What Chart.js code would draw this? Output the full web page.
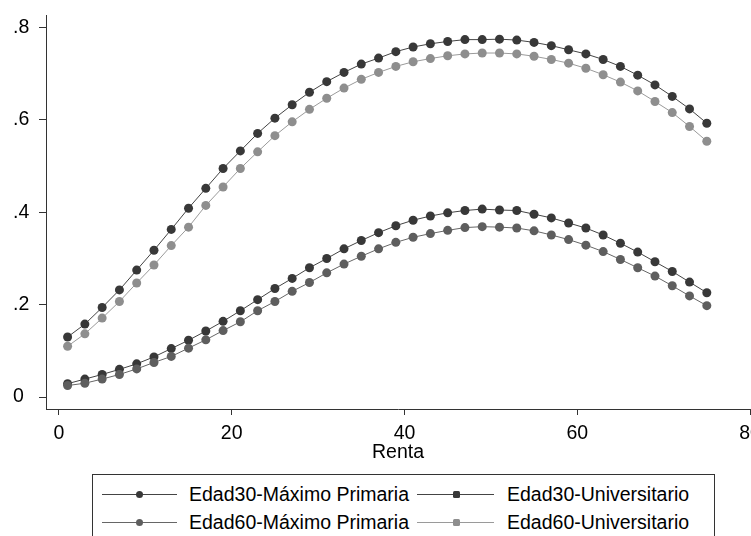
<!DOCTYPE html>
<html><head><meta charset="utf-8">
<script src="https://cdn.jsdelivr.net/npm/chart.js@4/dist/chart.umd.min.js"></script>
<style>
html,body{margin:0;padding:0;background:#fff;}
body{width:751px;height:536px;overflow:hidden;position:relative;font-family:"Liberation Sans",Arial,sans-serif;color:#000;}
#wrap{position:absolute;left:0;top:0;width:770px;height:470px;}
#legendBox{position:absolute;left:92px;top:474px;width:623px;height:80px;box-sizing:border-box;border:1px solid #333;}
.ln{position:absolute;height:1px;}
.mk{position:absolute;width:7px;height:7px;border-radius:50%;}
.sq{border-radius:1.5px;}
.tx{position:absolute;font-size:19.5px;line-height:22px;white-space:nowrap;}
</style></head><body>
<div id="wrap"><canvas id="c" width="770" height="470"></canvas></div>
<div id="legendBox"></div>
<div id="legendItems"></div>
<script>
// ---- data ----
const renta = [1,3,5,7,9,11,13,15,17,19,21,23,25,27,29,31,33,35,37,39,41,43,45,47,49,51,53,55,57,59,61,63,65,67,69,71,73,75];
const edad30Primaria = [0.029,0.039,0.049,0.060,0.072,0.087,0.105,0.123,0.143,0.164,0.187,0.211,0.235,0.257,0.280,0.300,0.321,0.339,0.356,0.371,0.383,0.392,0.399,0.404,0.407,0.405,0.404,0.396,0.388,0.377,0.366,0.351,0.333,0.314,0.293,0.272,0.249,0.226];
const edad30Universitario = [0.130,0.158,0.194,0.232,0.275,0.318,0.363,0.409,0.452,0.495,0.533,0.571,0.604,0.633,0.660,0.683,0.703,0.721,0.734,0.748,0.758,0.765,0.770,0.774,0.774,0.775,0.773,0.768,0.761,0.752,0.743,0.731,0.716,0.697,0.676,0.651,0.624,0.593];
const edad60Primaria = [0.025,0.030,0.039,0.049,0.061,0.075,0.088,0.106,0.124,0.144,0.163,0.187,0.207,0.229,0.248,0.269,0.288,0.305,0.321,0.335,0.346,0.354,0.361,0.367,0.369,0.368,0.366,0.360,0.351,0.341,0.329,0.315,0.298,0.280,0.262,0.241,0.219,0.198];
const edad60Universitario = [0.110,0.137,0.171,0.207,0.247,0.286,0.328,0.368,0.415,0.455,0.495,0.531,0.566,0.596,0.623,0.647,0.669,0.688,0.703,0.716,0.726,0.733,0.739,0.743,0.745,0.745,0.743,0.738,0.731,0.723,0.712,0.698,0.682,0.663,0.640,0.616,0.586,0.554];
const seriesNames = ['Edad30-Máximo Primaria','Edad30-Universitario','Edad60-Máximo Primaria','Edad60-Universitario'];
const xTicks = [0,20,40,60,80];
const yTicks = [0,0.2,0.4,0.6,0.8];
const yTickLabels = ['0','.2','.4','.6','.8'];
const xTitle = 'Renta';

// ---- styles ----
const seriesData = [edad30Primaria, edad30Universitario, edad60Primaria, edad60Universitario];
const markerColors = ['#383838','#383838','#5e5e5e','#8e8e8e'];
const lineColors = ['#444444','#444444','#666666','#9a9a9a'];
const FONT = {family:'"Liberation Sans", Arial, sans-serif', size:19.5};

const datasets = seriesData.map((vals,i)=>({
  label: seriesNames[i],
  data: renta.map((x,j)=>({x:x,y:vals[j]})),
  borderColor: lineColors[i],
  borderWidth: 1,
  pointRadius: 4.5,
  pointBorderWidth: 0,
  pointBackgroundColor: markerColors[i],
  pointStyle: 'circle',
  tension: 0,
  fill: false,
  order: 4-i
}));

new Chart(document.getElementById('c'), {
  type: 'line',
  data: {datasets},
  options: {
    responsive: false,
    animation: false,
    events: [],
    layout: {padding: {left:13, top:13, right:20, bottom:0}},
    plugins: {legend:{display:false}, tooltip:{enabled:false}},
    scales: {
      x: {
        type: 'linear', min: -1.5, max: 80,
        afterBuildTicks: s => { s.ticks = xTicks.map(v=>({value:v})); },
        afterFit: s => { s.height = 61; },
        ticks: {font: FONT, color:'#000', padding:7, maxRotation:0, autoSkip:false},
        grid: {drawOnChartArea:false, drawTicks:true, tickLength:6, color:'#333', lineWidth:1},
        border: {display:true, color:'#333', width:1},
        title: {display:true, text:xTitle, font:FONT, color:'#000', padding:{top:0,bottom:6}}
      },
      y: {
        type: 'linear', min: -0.0258, max: 0.8258,
        afterBuildTicks: s => { s.ticks = yTicks.map(v=>({value:v})); },
        afterFit: s => { s.width = 33; },
        ticks: {font: FONT, color:'#000', crossAlign:'far', padding:4,
          callback: (v) => { const k = yTicks.findIndex(t=>Math.abs(t-v)<1e-9); return k>=0 ? yTickLabels[k] : ''; }},
        grid: {drawOnChartArea:false, drawTicks:true, tickLength:7, color:'#333', lineWidth:1},
        border: {display:true, color:'#333', width:1}
      }
    }
  }
});

// ---- legend (HTML) ----
const legendPos = [
  {row:0,col:0},{row:0,col:1},{row:1,col:0},{row:1,col:1}
];
const rowY = [494, 522];
const colLine = [[102,177,139],[417,494,456]];
const colText = [189, 507];
const lg = document.getElementById('legendItems');
seriesNames.forEach((name,i)=>{
  const p = legendPos[i];
  const y = rowY[p.row];
  const [x0,x1,xm] = colLine[p.col];
  const ln = document.createElement('div');
  ln.className='ln';
  ln.style.left=x0+'px'; ln.style.top=(y-0.5)+'px'; ln.style.width=(x1-x0)+'px';
  ln.style.background=lineColors[i];
  lg.appendChild(ln);
  const mk = document.createElement('div');
  mk.className = 'mk' + (p.col===1 ? ' sq' : '');
  mk.style.left=(xm-3.5)+'px'; mk.style.top=(y-3.5)+'px';
  mk.style.background=markerColors[i];
  lg.appendChild(mk);
  const tx = document.createElement('div');
  tx.className='tx';
  tx.style.left=colText[p.col]+'px'; tx.style.top=(y-11)+'px';
  tx.textContent=name;
  lg.appendChild(tx);
});
</script>
</body></html>
